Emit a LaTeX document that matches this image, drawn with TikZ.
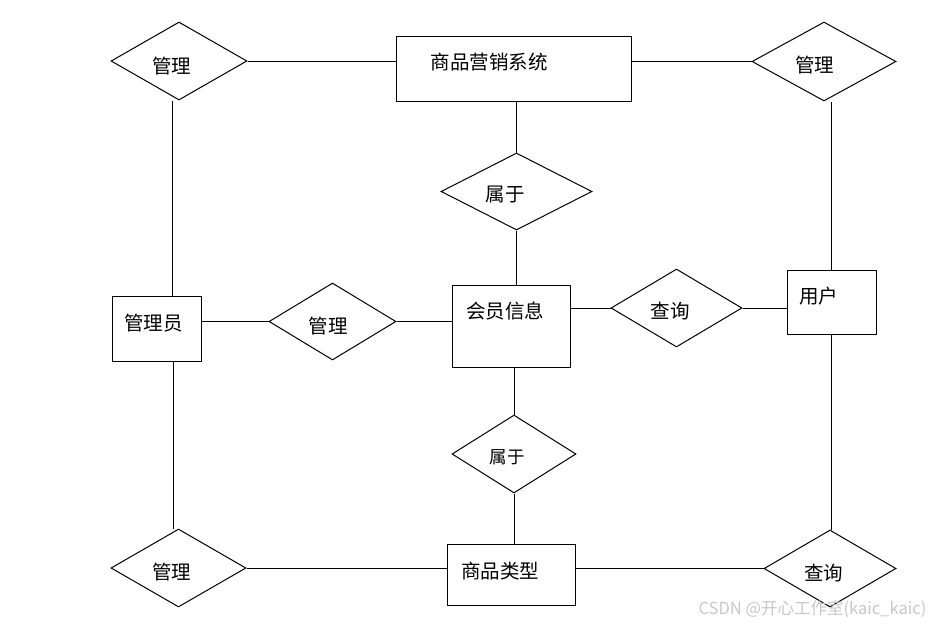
\documentclass[tikz,border=0pt]{standalone}
\usepackage{fontspec}
\newfontfamily\cjk{Noto Sans CJK SC}
\usetikzlibrary{shapes.geometric}
\begin{document}
\begin{tikzpicture}[x=1pt,y=-1pt,line width=1pt,
    ent/.style={draw,rectangle,inner sep=0},
    rel/.style={draw,diamond,inner sep=0},
    txt/.style={inner sep=0,font=\cjk\fontsize{19.5}{21}\selectfont}]
  \useasboundingbox (0,0) rectangle (935,625);
  % entities
  \node[ent,minimum width=235,minimum height=65] (sys) at (513.5,68.5) {};
  \node[txt] (sys-t) at (489,62) {商品营销系统};
  \node[ent,minimum width=89,minimum height=65] (admin) at (156.5,328.5) {};
  \node[txt] (admin-t) at (153.5,323) {管理员};
  \node[ent,minimum width=118,minimum height=82] (member) at (511,326) {};
  \node[txt] (member-t) at (505,311) {会员信息};
  \node[ent,minimum width=89,minimum height=64] (user) at (831.5,302) {};
  \node[txt] (user-t) at (818.5,296) {用户};
  \node[ent,minimum width=128,minimum height=61] (type) at (511,574.5) {};
  \node[txt] (type-t) at (500,571) {商品类型};
  % relations
  \node[rel,minimum width=136,minimum height=78] (r1) at (179,61) {};
  \node[txt] (r1-t) at (171.5,66) {管理};
  \node[rel,minimum width=144,minimum height=79] (r2) at (824,61.5) {};
  \node[txt] (r2-t) at (814.5,65) {管理};
  \node[rel,minimum width=151,minimum height=77] (r3) at (516.5,191.5) {};
  \node[txt] (r3-t) at (505,195) {属于};
  \node[rel,minimum width=127,minimum height=77] (r4) at (332.5,321.5) {};
  \node[txt] (r4-t) at (328,326) {管理};
  \node[rel,minimum width=131,minimum height=78] (r5) at (676.5,308) {};
  \node[txt] (r5-t) at (670,311) {查询};
  \node[rel,minimum width=124,minimum height=78] (r6) at (514,454) {};
  \node[txt,font=\cjk\fontsize{17.5}{19}\selectfont] (r6-t) at (507,457) {属于};
  \node[rel,minimum width=135,minimum height=78] (r7) at (178.5,568) {};
  \node[txt] (r7-t) at (171.5,572) {管理};
  \node[rel,minimum width=132,minimum height=77] (r8) at (830,568.5) {};
  \node[txt] (r8-t) at (823.5,573) {查询};
  % connectors
  \draw (r1.east) -- (r1.east -| sys.west);
  \draw (sys.east |- r2.west) -- (r2.west);
  \draw (r3.north |- sys.south) -- (r3.north);
  \draw (r3.south) -- (r3.south |- member.north);
  \draw ([xshift=15.5]admin.north) -- ([xshift=15.5]admin.north |- r1.south);
  \draw ([xshift=16.5]admin.south) -- ([xshift=16.5]admin.south |- r7.north);
  \draw (user.north) -- (user.north |- r2.south);
  \draw (user.south) -- (user.south |- r8.north);
  \draw (admin.east |- r4.west) -- (r4.west);
  \draw (r4.east) -- (r4.east -| member.west);
  \draw (r5.west -| member.east) -- (r5.west);
  \draw (r5.east) -- (r5.east -| user.west);
  \draw (r6.north |- member.south) -- (r6.north);
  \draw (r6.south) -- (r6.south |- type.north);
  \draw (r7.east) -- (r7.east -| type.west);
  \draw (r8.west -| type.east) -- (r8.west);
  % watermark
  \node[inner sep=0,text=black!22,font=\cjk\fontsize{16.5}{18}\selectfont] (mark) at (812.5,609) {CSDN @开心工作室(kaic\_kaic)};
\end{tikzpicture}
\end{document}
